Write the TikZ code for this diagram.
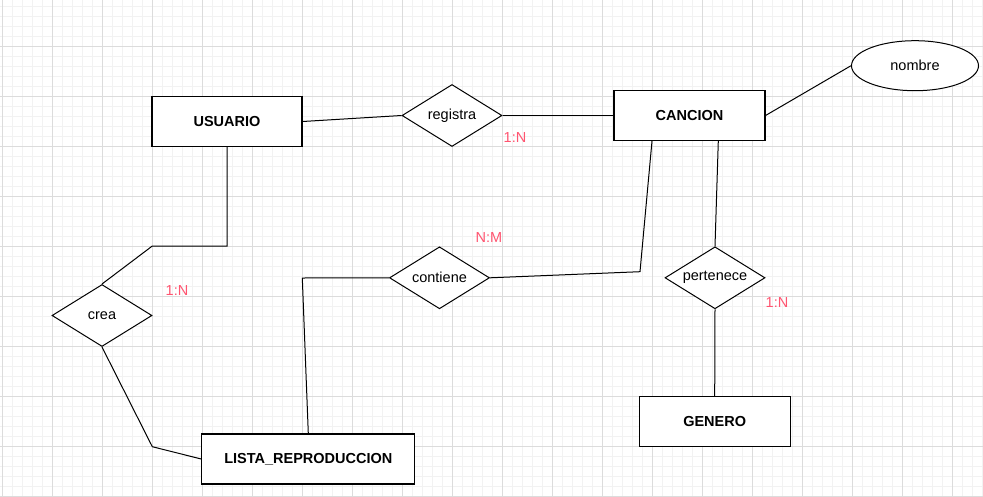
\documentclass[tikz,border=0pt]{standalone}
\usepackage{fontspec}
\setmainfont{Liberation Sans}
\usetikzlibrary{shapes.geometric}
\definecolor{gridminor}{HTML}{F2F2F2}
\definecolor{gridmajor}{HTML}{DCDCDC}
\definecolor{cardred}{HTML}{FF5470}
\tikzset{
  entity/.style={draw=black, line width=1.1pt, fill=white, rectangle, inner sep=0pt,
    minimum height=50pt, font=\fontsize{14.5}{17}\selectfont\bfseries},
  relation/.style={draw=black, line width=1pt, fill=white, diamond, inner sep=0pt, aspect=1.6,
    minimum width=100pt, minimum height=62pt, font=\fontsize{14.5}{17}\selectfont},
  attrib/.style={draw=black, line width=1pt, fill=white, ellipse, inner sep=0pt,
    minimum width=127pt, minimum height=50pt, font=\fontsize{14.5}{17}\selectfont},
  card/.style={text=cardred, inner sep=0pt, font=\fontsize{14.5}{17}\selectfont},
  link/.style={draw=black, line width=1pt}
}
\begin{document}
\begin{tikzpicture}[x=1pt,y=-1pt]
\useasboundingbox (0,0) rectangle (983,496);
\fill[white] (0,0) rectangle (983,496);
% grid
\foreach \x in {2.7,12.7,...,982.7} \draw[gridminor, line width=0.8pt] (\x,0) -- (\x,496);
\foreach \y in {6,16,...,496} \draw[gridminor, line width=0.8pt] (0,\y) -- (983,\y);
\foreach \x in {2.7,52.7,...,982.7} \draw[gridmajor, line width=0.9pt] (\x,0) -- (\x,496);
\foreach \y in {-4,46,...,496} \draw[gridmajor, line width=0.9pt] (0,\y) -- (983,\y);

% entities
\node[entity, minimum width=150pt] (usuario) at (227,121.5) {USUARIO};
\node[entity, minimum width=151pt] (cancion) at (689.5,115.5) {CANCION};
\node[entity, minimum width=213pt] (lista) at (308.3,459) {LISTA\_REPRODUCCION};
\node[entity, minimum width=151pt] (genero) at (714.7,421.7) {GENERO};

% relations
\node[relation] (registra) at (452,115.5) {registra};
\node[relation] (contiene) at (439.5,277.8) {contiene};
\node[relation] (pertenece) at (715,277.8) {pertenece};
\node[relation] (crea) at (102,315.5) {crea};

% attribute
\node[attrib] (nombre) at (915,65.7) {nombre};

% bend points
\coordinate (c1) at (640,271.7);
\coordinate (u1) at (227,246);
\coordinate (u2) at (152.3,246);
\coordinate (l1) at (152.3,446.7);
\coordinate (l2) at (302.3,278);

% connectors
\draw[link] (usuario.east) -- (registra.west);
\draw[link] (registra.east) -- (cancion.west);
\draw[link] (cancion.east) -- (nombre.west);
\draw[link] ([xshift=-37.5pt]cancion.south) -- (c1) -- (contiene.east);
\draw[link] ([xshift=28.8pt]cancion.south) -- (pertenece.north);
\draw[link] (pertenece.south) -- (genero.north);
\draw[link] (usuario.south) -- (u1) -- (u2) -- (crea.north);
\draw[link] (crea.south) -- (l1) -- (lista.west);
\draw[link] (lista.north) -- (l2) -- (contiene.west);

% cardinalities
\node[card] (k1) at (515,138) {1:N};
\node[card] (k2) at (489,238) {N:M};
\node[card] (k3) at (177,291) {1:N};
\node[card] (k4) at (777,302.7) {1:N};
\end{tikzpicture}
\end{document}
